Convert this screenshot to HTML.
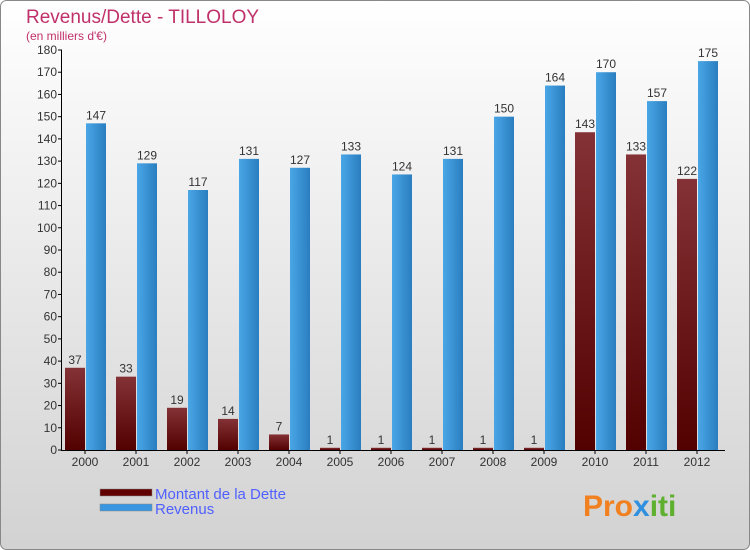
<!DOCTYPE html>
<html><head><meta charset="utf-8"><style>
html,body{margin:0;padding:0;width:750px;height:550px;overflow:hidden;font-family:"Liberation Sans",sans-serif}
</style></head><body>
<svg id="chart" width="750" height="550" xmlns="http://www.w3.org/2000/svg">
<defs>
<linearGradient id="bg" x1="0" y1="0" x2="0" y2="1"><stop offset="0" stop-color="#ffffff"/><stop offset="1" stop-color="#d2d2d2"/></linearGradient>
<linearGradient id="gd" x1="0" y1="0" x2="0" y2="1"><stop offset="0" stop-color="#853236"/><stop offset="1" stop-color="#520000"/></linearGradient>
<linearGradient id="gr" x1="0" y1="0" x2="1" y2="0"><stop offset="0" stop-color="#4aa6e6"/><stop offset="1" stop-color="#2a7ec0"/></linearGradient>
</defs>
<rect x="0.5" y="0.5" width="749" height="549" rx="6" fill="url(#bg)" stroke="#888"/>
<text x="26" y="23" font-size="19" fill="#c0306a">Revenus/Dette - TILLOLOY</text>
<text x="26" y="40" font-size="12" fill="#c0306a">(en milliers d'€)</text>
<g id="bars"></g>
<g id="axes"></g>
<rect x="100" y="489" width="52" height="7" fill="#600000" stroke="#888" stroke-width="0.5"/>
<text x="155" y="499" font-size="15" fill="#5060ff">Montant de la Dette</text>
<rect x="100" y="504" width="52" height="7" fill="#3a96e0" stroke="#888" stroke-width="0.5"/>
<text x="155" y="514" font-size="15" fill="#5060ff">Revenus</text>
<text x="583" y="516" font-size="30" font-weight="bold" fill="#f08020">Pro<tspan fill="#3090e0">x</tspan><tspan fill="#60b030">iti</tspan></text>
</svg>
<script>
const years=["2000","2001","2002","2003","2004","2005","2006","2007","2008","2009","2010","2011","2012"];
const dette=[37,33,19,14,7,1,1,1,1,1,143,133,122];
const revenus=[147,129,117,131,127,133,124,131,150,164,170,157,175];
const yTicks=[0,10,20,30,40,50,60,70,80,90,100,110,120,130,140,150,160,170,180];
const NS="http://www.w3.org/2000/svg";
const y0=450,yMax=180,ph=400,x0=62,step=51;
const ys=v=>y0-v/yMax*ph;
const xs=i=>x0+i*step;
const bars=document.getElementById('bars'),axes=document.getElementById('axes');
function mk(tag,attrs,parent){const e=document.createElementNS(NS,tag);for(const k in attrs)e.setAttribute(k,attrs[k]);parent.appendChild(e);return e;}
years.forEach((yr,i)=>{
  const gx=xs(i);
  let r=mk('rect',{x:gx+3,y:ys(dette[i]),width:20,height:y0-ys(dette[i]),fill:'url(#gd)'},bars);
  
  
  let t=mk('text',{x:gx+13,y:ys(dette[i])-4,'font-size':12,'text-anchor':'middle',fill:'#333'},bars);t.textContent=dette[i];
  
  
  r=mk('rect',{x:gx+24,y:ys(revenus[i]),width:20,height:y0-ys(revenus[i]),fill:'url(#gr)'},bars);
  
  
  t=mk('text',{x:gx+34,y:ys(revenus[i])-4,'font-size':12,'text-anchor':'middle',fill:'#333'},bars);t.textContent=revenus[i];
  
  
  mk('line',{x1:gx+23,x2:gx+23,y1:y0,y2:y0+4,stroke:'#000'},axes);
  t=mk('text',{x:gx+23,y:y0+16,'font-size':12,'text-anchor':'middle',fill:'#333'},axes);t.textContent=yr;
  
  
});
yTicks.forEach(v=>{
  mk('line',{x1:58,x2:62,y1:ys(v),y2:ys(v),stroke:'#000'},axes);
  const t=mk('text',{x:57,y:ys(v)+4,'font-size':12,'text-anchor':'end',fill:'#333'},axes);t.textContent=v;
  
  
});
let a=mk('line',{x1:61.5,x2:61.5,y1:50,y2:y0,stroke:'#000'},axes);


a=mk('line',{x1:61,x2:725,y1:y0+0.5,y2:y0+0.5,stroke:'#000'},axes);


</script>
</body></html>
